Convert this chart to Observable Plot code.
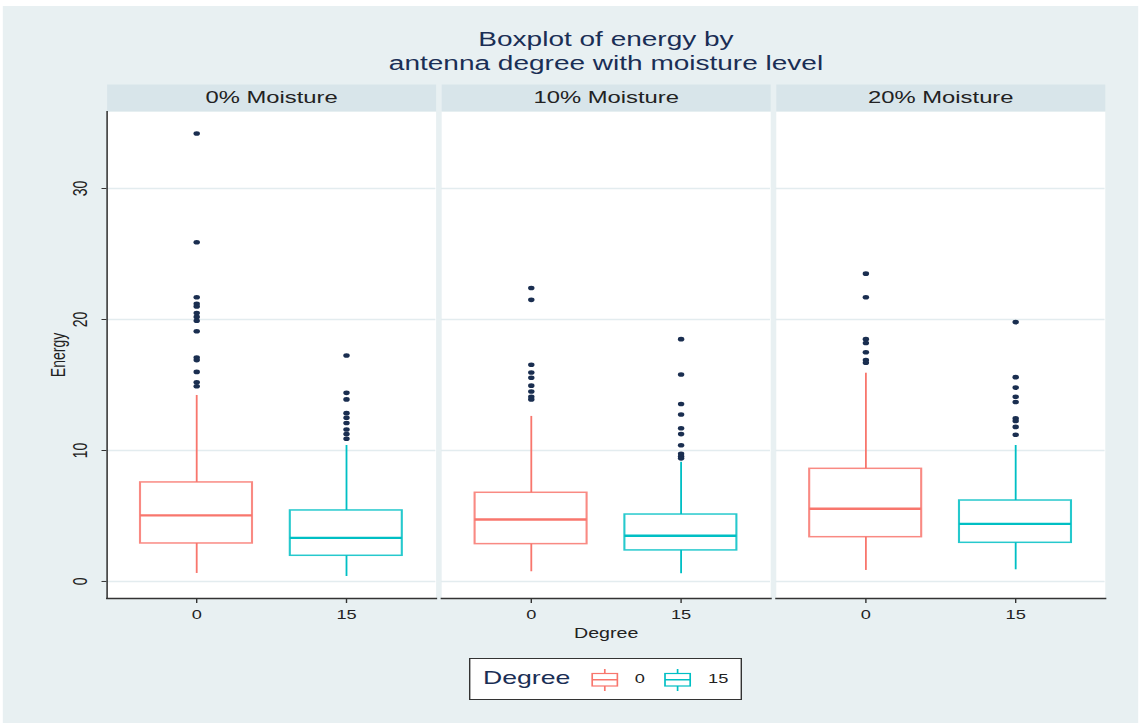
<!DOCTYPE html>
<html>
<head>
<meta charset="utf-8">
<script src="https://cdn.jsdelivr.net/npm/d3@7"></script>
<script src="https://cdn.jsdelivr.net/npm/@observablehq/plot@0.6"></script>
<style>
html, body { margin: 0; padding: 0; background: #fff; overflow: hidden; }
#stage { position: relative; width: 813.57px; height: 723px; transform: scaleX(1.4); transform-origin: 0 0;
  font-family: "Liberation Sans", Arial, Helvetica, sans-serif; }
#bg { position: absolute; left: 1.5px; top: 6px; width: 811px; height: 717px; background: #e8f0f2; }
#title { position: absolute; left: 75px; width: 715.7px; top: 27px; text-align: center; color: #1a2e55;
  font-size: 20px; line-height: 24px; }
#chart { position: absolute; left: 0; top: 84px; }
#legend { position: absolute; left: 335px; top: 658px; width: 194.8px; height: 42px; box-sizing: border-box;
  border: 1px solid #333; background: #fff; }
#legend .lt { position: absolute; left: 9px; top: 8px; font-size: 19px; color: #1a2e55; line-height: 22px; }
#legend .li { position: absolute; top: 9px; }
#legend .ll { position: absolute; top: 12px; font-size: 13px; color: #222; line-height: 16px; }
</style>
</head>
<body>
<div id="stage">
  <div id="bg"></div>
  <div id="title">Boxplot of energy by<br>antenna degree with moisture level</div>
  <div id="chart"></div>
  <div id="legend"></div>
</div>
<script>
// ---- data ----
const moisture = ["0% Moisture", "10% Moisture", "20% Moisture"];
const degrees = ["0", "15"];
const colors = ["#f8766d", "#00bfc4"];
const yTicks = [0, 10, 20, 30];
const xLabel = "Degree";
const yLabel = "Energy";

// box statistics, order: (0%,0), (0%,15), (10%,0), (10%,15), (20%,0), (20%,15)
const whiskerLow  = [0.61, 0.38, 0.74, 0.59, 0.84, 0.89];
const q1          = [2.90, 1.96, 2.85, 2.37, 3.38, 2.95];
const median      = [5.04, 3.33, 4.73, 3.49, 5.55, 4.40];
const q3          = [7.56, 5.42, 6.77, 5.11, 8.60, 6.18];
const whiskerHigh = [14.2, 10.38, 12.6, 9.1, 15.9, 10.38];

const outliers0_0   = [34.2, 25.9, 21.7, 21.2, 21.0, 20.5, 20.2, 19.9, 19.1, 17.1, 16.9, 16.0, 15.2, 14.9];
const outliers0_15  = [17.25, 14.4, 13.9, 12.85, 12.5, 12.1, 11.6, 11.25, 10.9];
const outliers10_0  = [22.4, 21.5, 16.55, 15.95, 15.55, 14.95, 14.5, 14.1, 13.9];
const outliers10_15 = [18.5, 15.8, 13.55, 12.75, 11.7, 11.25, 10.4, 9.75, 9.55, 9.4];
const outliers20_0  = [23.5, 21.7, 18.5, 18.2, 17.5, 16.9, 16.7];
const outliers20_15 = [19.8, 15.6, 14.8, 14.1, 13.7, 12.45, 12.25, 11.8, 11.2];
const outliers = [outliers0_0, outliers0_15, outliers10_0, outliers10_15, outliers20_0, outliers20_15];

const yDomain = [-1.3, 35.88];

// ---- build tables ----
const boxes = [];
const points = [];
moisture.forEach((m, i) => degrees.forEach((d, j) => {
  const k = i * degrees.length + j;
  boxes.push({moisture: m, degree: d, lo: whiskerLow[k], q1: q1[k], med: median[k], q3: q3[k], hi: whiskerHigh[k]});
  outliers[k].forEach(v => points.push({moisture: m, degree: d, energy: v}));
}));

const W = 813.57, H = 561, mT = 27, mB = 47, mL = 75, mR = 22.9;
const innerH = H - mT - mB;

const chart = Plot.plot({
  width: W, height: H,
  marginTop: mT, marginBottom: mB, marginLeft: mL, marginRight: mR,
  style: {fontFamily: "'Liberation Sans', Arial, Helvetica, sans-serif", fontSize: "13px", color: "#222", background: "transparent", overflow: "visible"},
  fx: {domain: moisture, paddingInner: 0.018, paddingOuter: 0, axis: null, label: null},
  x: {domain: degrees, type: "band", paddingInner: 0.25, paddingOuter: 0.22, axis: null, label: null},
  y: {domain: yDomain, axis: null, label: null},
  color: {domain: degrees, range: colors},
  marks: [
    Plot.frame({fill: "#ffffff", stroke: "none"}),
    Plot.frame({fill: "#d8e5ea", stroke: "none", insetTop: -mT, insetBottom: innerH}),
    Plot.gridY(yTicks, {stroke: "#e3ecef", strokeOpacity: 1, strokeWidth: 1.5}),
    Plot.ruleX(boxes, {fx: "moisture", x: "degree", y1: "lo", y2: "hi", stroke: "degree", strokeWidth: 1.3}),
    Plot.barY(boxes, {fx: "moisture", x: "degree", y1: "q1", y2: "q3", fill: "#ffffff", stroke: "degree", strokeWidth: 1.5, strokeOpacity: 0.85}),
    Plot.tickY(boxes, {fx: "moisture", x: "degree", y: "med", stroke: "degree", strokeWidth: 2.3}),
    Plot.dot(points, {fx: "moisture", x: "degree", y: "energy", r: 2.3, fill: "#1a2e50", stroke: "none"}),
    Plot.frame({anchor: "bottom", stroke: "#333", strokeWidth: 1.5}),
    Plot.frame({anchor: "left", facetAnchor: "left", stroke: "#333", strokeWidth: 1.1}),
    Plot.axisX({anchor: "bottom", tickSize: 5, tickPadding: 6, fontSize: 13, label: null, stroke: "#333"}),
    Plot.axisY({anchor: "left", ticks: yTicks, tickSize: 3.5, tickPadding: 11, tickRotate: -90, fontSize: 14,
      label: yLabel, labelAnchor: "center", labelOffset: 40, labelArrow: "none", stroke: "#333"}),
    Plot.text(moisture, {fx: d => d, frameAnchor: "top", lineAnchor: "middle", dy: -13.5, text: d => d, fontSize: 17, fill: "#222"}),
    Plot.text([xLabel], {fx: [moisture[1]], frameAnchor: "bottom", lineAnchor: "middle", dy: 35, text: d => d, fontSize: 14, fill: "#222"})
  ]
});
document.getElementById("chart").appendChild(chart);

// ---- legend ----
const legend = d3.select("#legend");
legend.append("div").attr("class", "lt").text(xLabel);
const iconX = [86.4, 137.6];
const labelX = [117.4, 169.8];
degrees.forEach((d, i) => {
  const svg = legend.append("svg").attr("class", "li").style("left", iconX[i] + "px")
    .attr("width", 20).attr("height", 24);
  svg.append("line").attr("x1", 10).attr("x2", 10).attr("y1", 1).attr("y2", 23).attr("stroke", colors[i]).attr("stroke-width", 1.2);
  svg.append("rect").attr("x", 1).attr("y", 5.5).attr("width", 18).attr("height", 12.5)
    .attr("fill", "#fff").attr("stroke", colors[i]).attr("stroke-width", 1.2);
  svg.append("line").attr("x1", 1).attr("x2", 19).attr("y1", 11.75).attr("y2", 11.75).attr("stroke", colors[i]).attr("stroke-width", 1.4);
  legend.append("div").attr("class", "ll").style("left", labelX[i] + "px").text(d);
});
</script>
</body>
</html>
